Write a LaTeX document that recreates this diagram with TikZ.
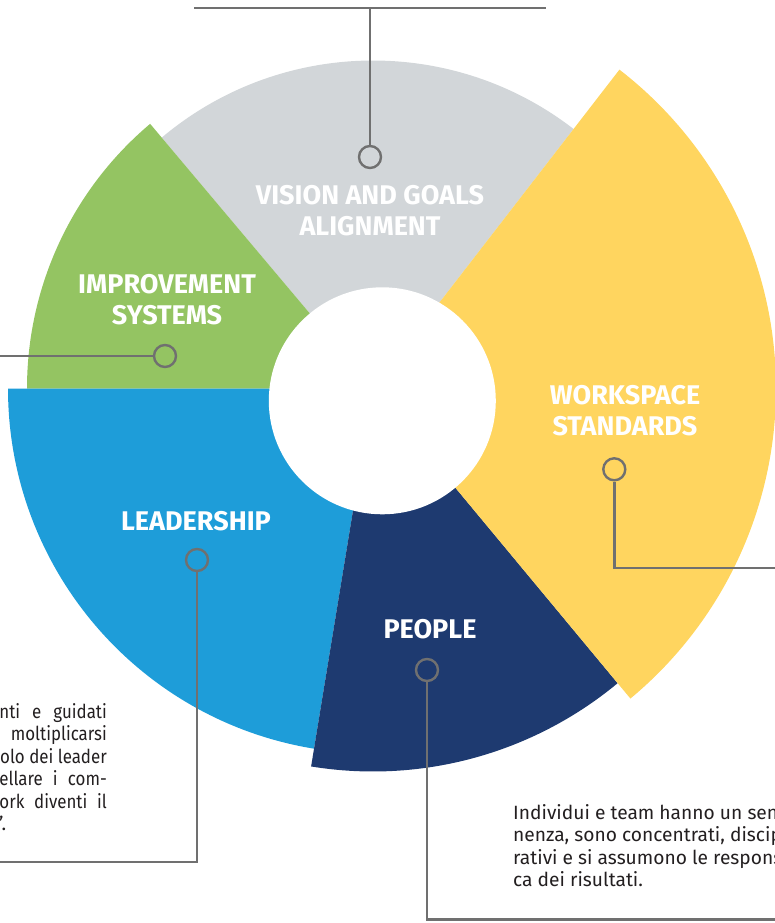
\documentclass[tikz,border=0pt]{standalone}
\usepackage{fontspec}
\usepackage{graphicx}
\setmainfont{Fira Sans}
\definecolor{cgray}{HTML}{D2D6D9}
\definecolor{cgreen}{HTML}{94C462}
\definecolor{cblue}{HTML}{1E9DD9}
\definecolor{cnavy}{HTML}{1E3A70}
\definecolor{cyellow}{HTML}{FFD55F}
\definecolor{cline}{HTML}{707070}
\definecolor{ctext}{HTML}{231F20}
\newcommand{\narrowline}[1]{\scalebox{0.88}[1]{#1}}
\tikzset{
  ring/.style={circle, draw=cline, line width=2.4pt, minimum size=22pt, inner sep=0pt},
  conn/.style={draw=cline, line width=2.4pt},
  lab/.style={text=white, font=\fontsize{27}{31}\selectfont\bfseries, align=center, inner sep=0pt},
  body/.style={text=ctext, font=\fontsize{19.2}{22}\selectfont, inner sep=0pt}
}
\begin{document}
\begin{tikzpicture}[x=1pt,y=1pt]
\useasboundingbox (0,0) rectangle (775,-923);
\begin{scope}
\clip (0,0) rectangle (775,-923);
\coordinate (P) at (373,-388.5);
% sectors
\fill[cgray]   (P) -- ++(52.3:328) arc[start angle=52.3, end angle=130.1, radius=328] -- cycle;
\fill[cgreen]  (P) -- ++(130.1:346) arc[start angle=130.1, end angle=180, radius=346] -- cycle;
\fill[cblue]   (P) -- ++(180:365) arc[start angle=180, end angle=260.7, radius=365] -- cycle;
\fill[cnavy]   (P) -- ++(260.7:383) arc[start angle=260.7, end angle=309.7, radius=383] -- cycle;
\fill[cyellow] (P) -- ++(-50.3:403) arc[start angle=-50.3, end angle=52.3, radius=403] -- cycle;
\fill[white] (382.3,-400.8) circle[radius=113.5];

% labels
\node[lab] (lvision) at (370,-210.5) {VISION AND GOALS\\ALIGNMENT};
\node[lab] (limpr) at (167,-299.5) {IMPROVEMENT\\SYSTEMS};
\node[lab] (lwork) at (625,-411) {WORKSPACE\\STANDARDS};
\node[lab] (llead) at (196,-521) {LEADERSHIP};
\node[lab] (lpeople) at (430,-629) {PEOPLE};

% connectors
\node[ring] (cv) at (370,-157) {};
\coordinate (v1) at (194,-8.3);
\coordinate (v2) at (545.7,-8.3);
\draw[conn] (v1) -- (v2);
\draw[conn] (cv) -- (cv |- v1);

\node[ring] (ci) at (165,-356) {};
\coordinate (ie) at (-5,-356);
\draw[conn] (ci) -- (ie);

\node[ring] (cw) at (614.3,-469.3) {};
\coordinate (wk) at (614.3,-567.7);
\coordinate (we) at (780,-567.7);
\draw[conn] (cw) -- (wk) -- (we);

\node[ring] (cl) at (197,-560) {};
\coordinate (lk) at (197,-862);
\coordinate (le) at (-5,-862);
\draw[conn] (cl) -- (lk) -- (le);

\node[ring] (cp) at (427,-670) {};
\coordinate (pk) at (427,-919.3);
\coordinate (pe) at (780,-919.3);
\draw[conn] (cp) -- (pk) -- (pe);

% left text
\node[body, anchor=base east] (t1) at (107,-718) {\narrowline{\makebox[122pt][s]{nti e guidati}}};
\node[body, anchor=base east] (t2) at (107,-740.5) {\narrowline{moltiplicarsi}};
\node[body, anchor=base east] (t3) at (107,-763) {\narrowline{olo dei leader}};
\node[body, anchor=base east] (t4) at (107,-785.5) {\narrowline{\makebox[122pt][s]{ellare i com-}}};
\node[body, anchor=base east] (t5) at (107,-808) {\narrowline{\makebox[122pt][s]{ork diventi il}}};
\node[body, anchor=base west] (t6) at (-1,-830.5) {’.};

% right text
\node[body, anchor=base west] (r1) at (513,-819) {Individui e team hanno un sen};
\node[body, anchor=base west] (r2) at (513,-841.5) {nenza, sono concentrati, discip};
\node[body, anchor=base west] (r3) at (513,-864) {rativi e si assumono le respons};
\node[body, anchor=base west] (r4) at (513,-886.5) {ca dei risultati.};
\end{scope}
\end{tikzpicture}
\end{document}
